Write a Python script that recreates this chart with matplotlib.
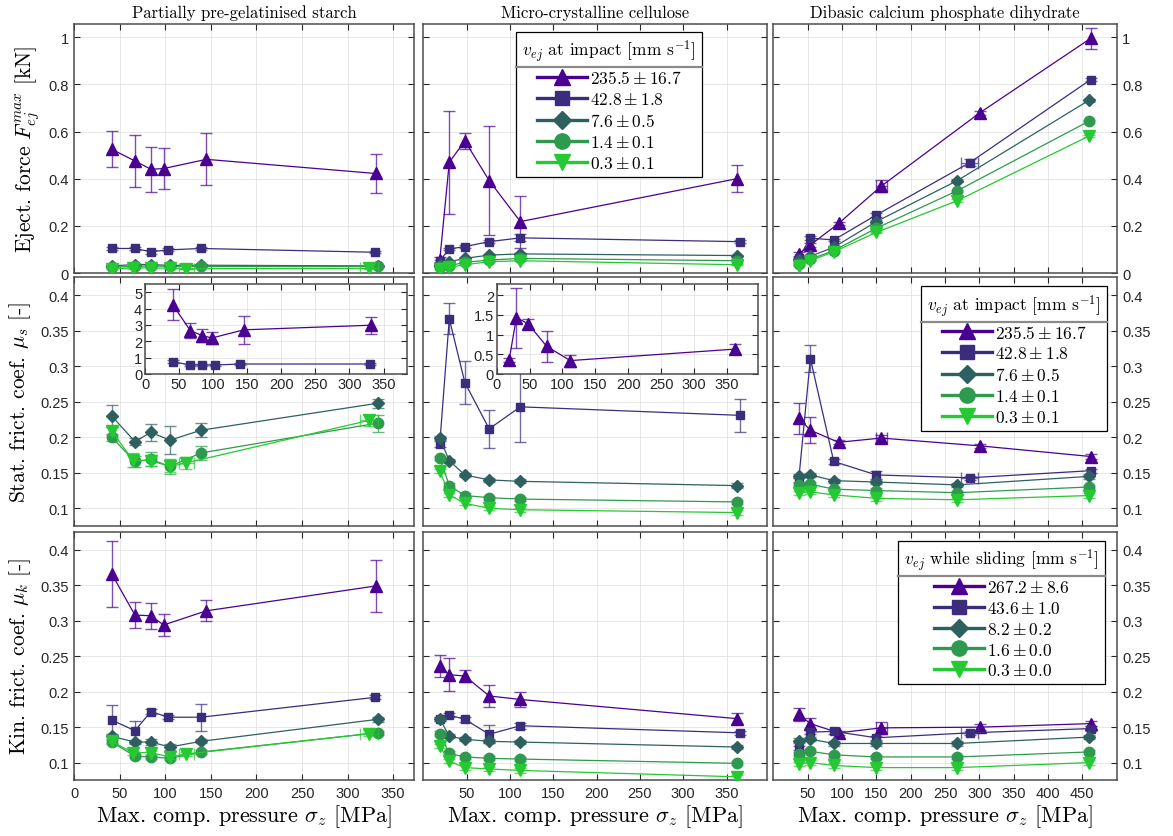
import numpy as np
import matplotlib
matplotlib.use('Agg')
import matplotlib.pyplot as plt
import matplotlib.ticker as mticker
from matplotlib.colors import to_rgba
from matplotlib.lines import Line2D

plt.rcParams['mathtext.fontset'] = 'cm'
plt.rcParams['font.family'] = 'Liberation Sans'
plt.rcParams['axes.unicode_minus'] = False

TITLES  = ['Partially pre-gelatinised starch', 'Micro-crystalline cellulose',
           'Dibasic calcium phosphate dihydrate']
COLORS  = ['#4B0091', '#3B2D7C', '#2E6060', '#2E9A4E', '#25C932']
MARKERS = ['^', 's', 'D', 'o', 'v']
MSIZES  = [8.5, 6, 6, 7.5, 8.5]
V_IMPACT = [r'$235.5 \pm 16.7$', r'$42.8 \pm 1.8$', r'$7.6 \pm 0.5$',
            r'$1.4 \pm 0.1$', r'$0.3 \pm 0.1$']
V_SLIDE  = [r'$267.2 \pm 8.6$', r'$43.6 \pm 1.0$', r'$8.2 \pm 0.2$',
            r'$1.6 \pm 0.0$', r'$0.3 \pm 0.0$']

# ---- Partially pre-gelatinised starch (series: 235.5, 42.8, 7.6, 1.4, 0.3)
x_ppgs = [[41, 66.5, 84, 98, 145, 331],
          [41, 66.5, 84, 103, 139, 330],
          [41, 66.5, 84, 105, 139, 333],
          [41, 66.5, 84, 105, 139, 333],
          [41, 64, 84, 105, 123, 324]]
xerr_ppgs = {4: [0, 0, 0, 0, 8, 10]}
F_ppgs = [[0.525, 0.475, 0.440, 0.443, 0.482, 0.422],
          [0.104, 0.104, 0.090, 0.098, 0.104, 0.088],
          [0.030, 0.036, 0.036, 0.032, 0.033, 0.030],
          [0.025, 0.028, 0.030, 0.028, 0.028, 0.028],
          [0.018, 0.021, 0.022, 0.020, 0.018, 0.020]]
F_ppgs_err = [[0.077, 0.112, 0.095, 0.088, 0.110, 0.083],
              [0.005, 0.005, 0.008, 0.006, 0.005, 0.005],
              [0.004, 0.004, 0.004, 0.004, 0.004, 0.004],
              [0.003, 0.003, 0.003, 0.003, 0.003, 0.003],
              [0.003, 0.003, 0.003, 0.003, 0.003, 0.003]]
mus_ppgs = [[4.22, 2.65, 2.35, 2.20, 2.70, 2.98],
            [0.75, 0.55, 0.55, 0.55, 0.61, 0.61],
            [0.230, 0.194, 0.207, 0.196, 0.210, 0.248],
            [0.200, 0.166, 0.169, 0.159, 0.178, 0.220],
            [0.209, 0.168, 0.167, 0.159, 0.164, 0.224]]
mus_ppgs_err = [[0.95, 0.45, 0.40, 0.35, 0.87, 0.53],
                [0.08, 0.05, 0.05, 0.05, 0.06, 0.05],
                [0.015, 0.005, 0.012, 0.020, 0.010, 0.006],
                [0.005, 0.008, 0.010, 0.010, 0.010, 0.012],
                [0.006, 0.010, 0.008, 0.008, 0.008, 0.008]]
muk_ppgs = [[0.366, 0.308, 0.307, 0.294, 0.314, 0.349],
            [0.160, 0.145, 0.172, 0.164, 0.164, 0.192],
            [0.137, 0.129, 0.129, 0.122, 0.130, 0.161],
            [0.129, 0.109, 0.108, 0.106, 0.115, 0.142],
            [0.130, 0.114, 0.114, 0.108, 0.112, 0.141]]
muk_ppgs_err = [[0.047, 0.018, 0.018, 0.016, 0.015, 0.036],
                [0.021, 0.014, 0.003, 0.003, 0.019, 0.003],
                [0.004, 0.003, 0.004, 0.004, 0.003, 0.004],
                [0.003, 0.003, 0.003, 0.003, 0.003, 0.003],
                [0.003, 0.003, 0.003, 0.003, 0.003, 0.003]]

# ---- Micro-crystalline cellulose
x_mcc = [[19, 30, 48, 76, 112, 362],
         [19, 30, 48, 76, 112, 365],
         [19, 30, 48, 76, 112, 362],
         [19, 30, 48, 76, 112, 362],
         [19, 30, 48, 76, 112, 362]]
xerr_mcc = {}
F_mcc = [[0.055, 0.470, 0.560, 0.392, 0.218, 0.400],
         [0.052, 0.102, 0.112, 0.133, 0.149, 0.133],
         [0.035, 0.048, 0.062, 0.076, 0.081, 0.074],
         [0.027, 0.031, 0.045, 0.055, 0.062, 0.052],
         [0.017, 0.024, 0.035, 0.048, 0.052, 0.035]]
F_mcc_err = [[0.012, 0.218, 0.035, 0.230, 0.110, 0.056],
             [0.005, 0.005, 0.006, 0.007, 0.015, 0.006],
             [0.003, 0.003, 0.003, 0.004, 0.004, 0.004],
             [0.003, 0.003, 0.003, 0.003, 0.003, 0.003],
             [0.003, 0.003, 0.003, 0.003, 0.003, 0.003]]
mus_mcc = [[0.363, 1.43, 1.27, 0.70, 0.34, 0.63],
           [0.191, 0.367, 0.277, 0.212, 0.243, 0.231],
           [0.199, 0.167, 0.147, 0.140, 0.138, 0.132],
           [0.171, 0.132, 0.118, 0.115, 0.113, 0.109],
           [0.153, 0.119, 0.107, 0.100, 0.098, 0.094]]
mus_mcc_err = [[0.05, 0.76, 0.13, 0.40, 0.15, 0.12],
               [0.004, 0.022, 0.030, 0.027, 0.049, 0.023],
               [0.003, 0.003, 0.003, 0.003, 0.003, 0.003],
               [0.003, 0.003, 0.003, 0.003, 0.003, 0.003],
               [0.003, 0.003, 0.003, 0.003, 0.003, 0.003]]
muk_mcc = [[0.236, 0.224, 0.222, 0.194, 0.189, 0.162],
           [0.162, 0.167, 0.161, 0.140, 0.152, 0.142],
           [0.162, 0.137, 0.133, 0.130, 0.129, 0.122],
           [0.141, 0.113, 0.108, 0.106, 0.105, 0.099],
           [0.123, 0.102, 0.093, 0.091, 0.089, 0.080]]
muk_mcc_err = [[0.015, 0.023, 0.008, 0.015, 0.010, 0.008],
               [0.003, 0.003, 0.004, 0.013, 0.004, 0.003],
               [0.003, 0.003, 0.003, 0.003, 0.003, 0.003],
               [0.003, 0.003, 0.003, 0.003, 0.003, 0.003],
               [0.003, 0.003, 0.003, 0.003, 0.003, 0.003]]

# ---- Dibasic calcium phosphate dihydrate
x_dcpd = [[37, 54, 95, 157, 301, 462],
          [37, 54, 88, 150, 286, 462],
          [37, 54, 88, 150, 268, 460],
          [37, 54, 88, 150, 268, 459],
          [37, 54, 88, 150, 268, 459]]
xerr_dcpd = {0: [0, 0, 0, 8, 0, 0], 1: [0, 0, 0, 0, 12, 0]}
F_dcpd = [[0.081, 0.119, 0.210, 0.368, 0.680, 0.995],
          [0.065, 0.148, 0.140, 0.246, 0.468, 0.820],
          [0.055, 0.071, 0.109, 0.218, 0.392, 0.733],
          [0.038, 0.059, 0.095, 0.190, 0.349, 0.643],
          [0.031, 0.052, 0.090, 0.172, 0.307, 0.580]]
F_dcpd_err = [[0.008, 0.008, 0.006, 0.025, 0.008, 0.045],
              [0.004, 0.008, 0.005, 0.008, 0.015, 0.006],
              [0.004, 0.004, 0.004, 0.005, 0.006, 0.006],
              [0.003, 0.003, 0.003, 0.004, 0.005, 0.005],
              [0.003, 0.003, 0.003, 0.004, 0.005, 0.005]]
mus_dcpd = [[0.227, 0.210, 0.193, 0.199, 0.188, 0.173],
            [0.140, 0.311, 0.166, 0.147, 0.143, 0.153],
            [0.146, 0.147, 0.139, 0.137, 0.133, 0.145],
            [0.133, 0.134, 0.127, 0.125, 0.122, 0.130],
            [0.122, 0.123, 0.119, 0.114, 0.112, 0.118]]
mus_dcpd_err = [[0.022, 0.018, 0.003, 0.005, 0.003, 0.003],
                [0.003, 0.019, 0.003, 0.006, 0.003, 0.003],
                [0.003, 0.003, 0.003, 0.003, 0.003, 0.003],
                [0.003, 0.003, 0.003, 0.003, 0.003, 0.003],
                [0.003, 0.003, 0.003, 0.003, 0.003, 0.003]]
muk_dcpd = [[0.168, 0.155, 0.142, 0.149, 0.150, 0.155],
            [0.121, 0.143, 0.144, 0.135, 0.142, 0.148],
            [0.131, 0.133, 0.127, 0.127, 0.127, 0.136],
            [0.112, 0.116, 0.111, 0.108, 0.108, 0.115],
            [0.098, 0.100, 0.096, 0.093, 0.093, 0.100]]
muk_dcpd_err = [[0.009, 0.008, 0.003, 0.008, 0.004, 0.003],
                [0.003, 0.003, 0.003, 0.003, 0.003, 0.003],
                [0.003, 0.003, 0.003, 0.003, 0.003, 0.003],
                [0.003, 0.003, 0.003, 0.003, 0.003, 0.003],
                [0.003, 0.003, 0.003, 0.003, 0.003, 0.003]]

XLIMS = [(0, 373), (0, 397), (0, 500)]
XTICKS = [np.arange(0, 351, 50), np.arange(50, 351, 50), np.arange(50, 451, 50)]

W, H = 1173, 837
COL_X = [(74.4, 414), (423.3, 767.3), (773.3, 1116.7)]
ROW_Y = [(25, 274), (278.3, 526.7), (532.7, 781)]

SERIF = 'cmr10'
TICK_C = '#262626'


def px_rect(x0, x1, y0, y1):
    return [x0 / W, 1 - y1 / H, (x1 - x0) / W, (y1 - y0) / H]


def style_axes(ax, lw=1.1):
    for s in ax.spines.values():
        s.set_color('#4d4d4d')
        s.set_linewidth(lw)
    ax.tick_params(direction='in', length=4, width=0.8, colors=TICK_C,
                   labelsize=10.5, top=True, right=True, pad=4)
    ax.grid(True, color='#e4e4e4', lw=0.6)
    ax.set_axisbelow(True)


def draw(ax, xs, ys, errs, xerrs, which):
    for i in which:
        ec = to_rgba(COLORS[i], 0.7)
        ax.errorbar(xs[i], ys[i], yerr=errs[i], color=COLORS[i], ecolor=ec,
                    marker=MARKERS[i], ms=MSIZES[i], mec=COLORS[i], lw=0.9,
                    elinewidth=1.0, capsize=4, capthick=1.0, zorder=3 + i)
        if i in xerrs:
            xe = np.array(xerrs[i], dtype=float)
            m = xe > 0
            ax.errorbar(np.array(xs[i])[m], np.array(ys[i])[m], xerr=xe[m],
                        fmt='none', ecolor=ec, elinewidth=1.0, capsize=4,
                        capthick=1.0, zorder=3 + i)


def add_legend(ax, title, labels, anchor):
    handles = [Line2D([], [], color=c, marker=m, ms=s + 3.5, lw=2.4)
               for c, m, s in zip(COLORS, MARKERS, MSIZES)]
    leg = ax.legend(handles, labels, title=title,
                    loc='upper center' if anchor[2] == 'c' else 'upper right',
                    bbox_to_anchor=anchor[:2], prop={'family': SERIF, 'size': 12.5},
                    title_fontproperties={'family': SERIF, 'size': 12.5},
                    frameon=True, fancybox=False, framealpha=1, edgecolor='black',
                    handlelength=2.9, handletextpad=0.15, labelspacing=0.28,
                    borderpad=0.35, borderaxespad=0, alignment='center')
    leg.get_frame().set_linewidth(0.9)
    leg.set_zorder(20)
    return leg


fig = plt.figure(figsize=(W / 100, H / 100), dpi=100)

materials = [
    (x_ppgs, xerr_ppgs, F_ppgs, F_ppgs_err, mus_ppgs, mus_ppgs_err, muk_ppgs, muk_ppgs_err),
    (x_mcc, xerr_mcc, F_mcc, F_mcc_err, mus_mcc, mus_mcc_err, muk_mcc, muk_mcc_err),
    (x_dcpd, xerr_dcpd, F_dcpd, F_dcpd_err, mus_dcpd, mus_dcpd_err, muk_dcpd, muk_dcpd_err),
]
# series shown in the main static-friction panel (others only in the inset)
MAIN_MUS = [[2, 3, 4], [1, 2, 3, 4], [0, 1, 2, 3, 4]]

legends = []
fmt = mticker.FuncFormatter(lambda v, p: f'{v:g}')
for c, (xs, xe, F, Fe, mus, muse, muk, muke) in enumerate(materials):
    rows = [(F, Fe, range(5)), (mus, muse, MAIN_MUS[c]), (muk, muke, range(5))]
    for r, (ys, es, which) in enumerate(rows):
        ax = fig.add_axes(px_rect(*COL_X[c], *ROW_Y[r]))
        style_axes(ax)
        draw(ax, xs, ys, es, xe, which)
        ax.set_xlim(*XLIMS[c])
        ax.set_xticks(XTICKS[c])
        if r == 0:
            ax.set_ylim(0, 1.056)
            ax.set_yticks(np.arange(0, 1.01, 0.2))
            ax.set_title(TITLES[c], fontfamily=SERIF, fontsize=12, pad=5)
        else:
            ax.set_ylim(0.0755, 0.4255)
            ax.set_yticks(np.arange(0.1, 0.401, 0.05))
        ax.yaxis.set_major_formatter(fmt)
        ax.xaxis.set_major_formatter(fmt)
        if r < 2:
            ax.tick_params(labelbottom=False)
        else:
            ax.set_xlabel(r'Max. comp. pressure $\sigma_z$ [MPa]', fontfamily=SERIF,
                          fontsize=16, labelpad=2)
        if c == 1:
            ax.tick_params(labelleft=False)
        elif c == 2:
            ax.tick_params(labelleft=False, labelright=True)
        if c == 0:
            ylab = [r'Eject. force $F_{ej}^{max}$ [kN]',
                    r'Stat. frict. coef. $\mu_s$ [-]',
                    r'Kin. frict. coef. $\mu_k$ [-]'][r]
            ax.set_ylabel(ylab, fontfamily=SERIF, fontsize=15.5, labelpad=5)
        if (r, c) == (0, 1):
            legends.append(add_legend(ax, r'$v_{ej}$ at impact [mm s$^{-1}$]',
                                      V_IMPACT, (0.54, 0.968, 'c')))
        if (r, c) == (1, 2):
            legends.append(add_legend(ax, r'$v_{ej}$ at impact [mm s$^{-1}$]',
                                      V_IMPACT, (0.972, 0.964, 'r')))
        if (r, c) == (2, 2):
            legends.append(add_legend(ax, r'$v_{ej}$ while sliding [mm s$^{-1}$]',
                                      V_SLIDE, (0.966, 0.964, 'r')))

# insets with the high static friction values
ins1 = fig.add_axes(px_rect(145, 406.7, 285, 375))
style_axes(ins1)
draw(ins1, x_ppgs, mus_ppgs, mus_ppgs_err, {}, [0, 1])
ins1.set_xlim(0, 384)
ins1.set_ylim(0, 5.5)
ins1.set_xticks(np.arange(0, 351, 50))
ins1.set_yticks(np.arange(0, 5.1, 1))

ins2 = fig.add_axes(px_rect(496.7, 758.3, 285, 375))
style_axes(ins2)
draw(ins2, x_mcc, mus_mcc, mus_mcc_err, {}, [0])
ins2.set_xlim(0, 398)
ins2.set_ylim(0, 2.28)
ins2.set_xticks(np.arange(0, 351, 50))
ins2.set_yticks(np.arange(0, 2.01, 0.5))
for ia in (ins1, ins2):
    ia.set_facecolor('white')
    ia.set_zorder(10)
    ia.xaxis.set_major_formatter(fmt)
    ia.yaxis.set_major_formatter(fmt)
    ia.tick_params(pad=2)

# separator line under each legend title
fig.canvas.draw()
rend = fig.canvas.get_renderer()
for leg in legends:
    fb = leg.get_frame().get_window_extent(rend)
    tb = leg.get_title().get_window_extent(rend)
    y = (tb.y0 - 3) / H
    fig.add_artist(Line2D([fb.x0 / W, fb.x1 / W], [y, y], transform=fig.transFigure,
                          color='#8a8a8a', lw=1.6, zorder=30))

fig.savefig('out.png', dpi=100)
